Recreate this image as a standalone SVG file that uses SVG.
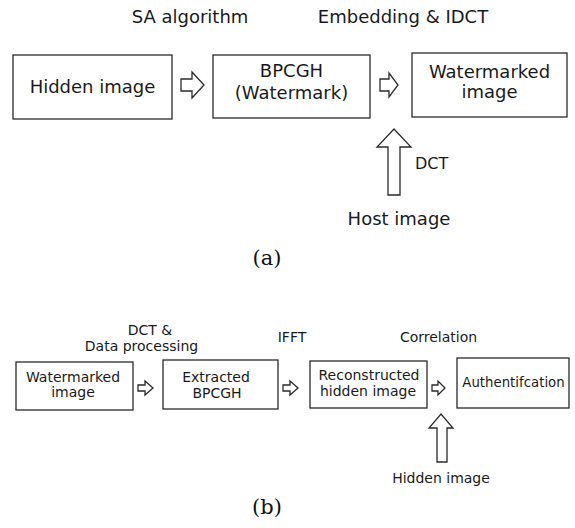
<svg xmlns="http://www.w3.org/2000/svg" width="575" height="528" viewBox="0 0 575 528">
  <style>
    .box { fill: #fff; stroke: #2a2a2a; stroke-width: 1.3; }
    .arr { fill: #fff; stroke: #2a2a2a; stroke-width: 1.3; stroke-linejoin: miter; }
    .t { font-family: "DejaVu Sans", "Liberation Sans", sans-serif; fill: #1a1a1a; text-anchor: middle; }
    .big { font-size: 18px; }
    .sm { font-size: 14px; }
    .cap { font-family: "DejaVu Serif", "Liberation Serif", serif; font-size: 21px; fill: #111; text-anchor: middle; }
  </style>
  <rect width="575" height="528" fill="#fff"/>

  <!-- (a) -->
  <text class="t big" x="190" y="23">SA algorithm</text>
  <text class="t big" x="403" y="23">Embedding &amp; IDCT</text>

  <g id="a-hidden">
    <rect class="box" x="13" y="55" width="159" height="64"/>
    <text class="t big" x="92.5" y="93">Hidden image</text>
  </g>
  <g id="a-bpcgh">
    <rect class="box" x="213" y="55" width="157" height="63"/>
    <text class="t big" x="291.5" y="77">BPCGH</text>
    <text class="t big" x="291.5" y="99">(Watermark)</text>
  </g>
  <g id="a-watermarked">
    <rect class="box" x="412" y="53" width="155" height="64"/>
    <text class="t big" x="489.5" y="78">Watermarked</text>
    <text class="t big" x="489.5" y="98">image</text>
  </g>
  <g id="a-host">
    <text class="t big" x="399" y="225">Host image</text>
  </g>

  <g id="a-connectors">
    <path class="arr" d="M181,79 H192 V72 L204,85 L192,98 V91 H181 Z"/>
    <path class="arr" d="M380,79 H389 V73 L398,85 L389,97 V91 H380 Z"/>
    <path class="arr" d="M388,195 V147 H377 L394,129 L411,147 H400 V195 Z"/>
    <text class="t" x="415" y="169" style="font-size:16px;text-anchor:start">DCT</text>
  </g>

  <text class="cap" x="267" y="265">(a)</text>

  <!-- (b) -->
  <text class="t sm" x="150" y="335">DCT &amp;</text>
  <text class="t sm" x="141.5" y="351">Data processing</text>
  <text class="t sm" x="292" y="342">IFFT</text>
  <text class="t sm" x="438.5" y="342">Correlation</text>

  <g id="b-watermarked">
    <rect class="box" x="16" y="362" width="117" height="48"/>
    <text class="t sm" x="73" y="382">Watermarked</text>
    <text class="t sm" x="73" y="397">image</text>
  </g>
  <g id="b-extracted">
    <rect class="box" x="163" y="360" width="115" height="49"/>
    <text class="t sm" x="216" y="382">Extracted</text>
    <text class="t sm" x="217" y="398">BPCGH</text>
  </g>
  <g id="b-reconstructed">
    <rect class="box" x="310" y="361" width="117" height="47"/>
    <text class="t sm" x="369" y="380">Reconstructed</text>
    <text class="t sm" x="368" y="396">hidden image</text>
  </g>
  <g id="b-auth">
    <rect class="box" x="457" y="358" width="112" height="50"/>
    <text class="t" x="513.5" y="387" style="font-size:13.3px">Authentifcation</text>
  </g>
  <g id="b-hidden">
    <text class="t sm" x="441" y="483">Hidden image</text>
  </g>

  <g id="b-connectors">
    <path class="arr" d="M138,385 H145 V381 L153,388 L145,395 V391 H138 Z"/>
    <path class="arr" d="M283,385 H290 V381 L298,388 L290,395 V391 H283 Z"/>
    <path class="arr" d="M432,385 H438 V381 L445,388 L438,395 V391 H432 Z"/>
    <path class="arr" d="M437,462 V428 H429 L441,414 L453,428 H447 V462 Z"/>
  </g>

  <text class="cap" x="267" y="514">(b)</text>
</svg>
